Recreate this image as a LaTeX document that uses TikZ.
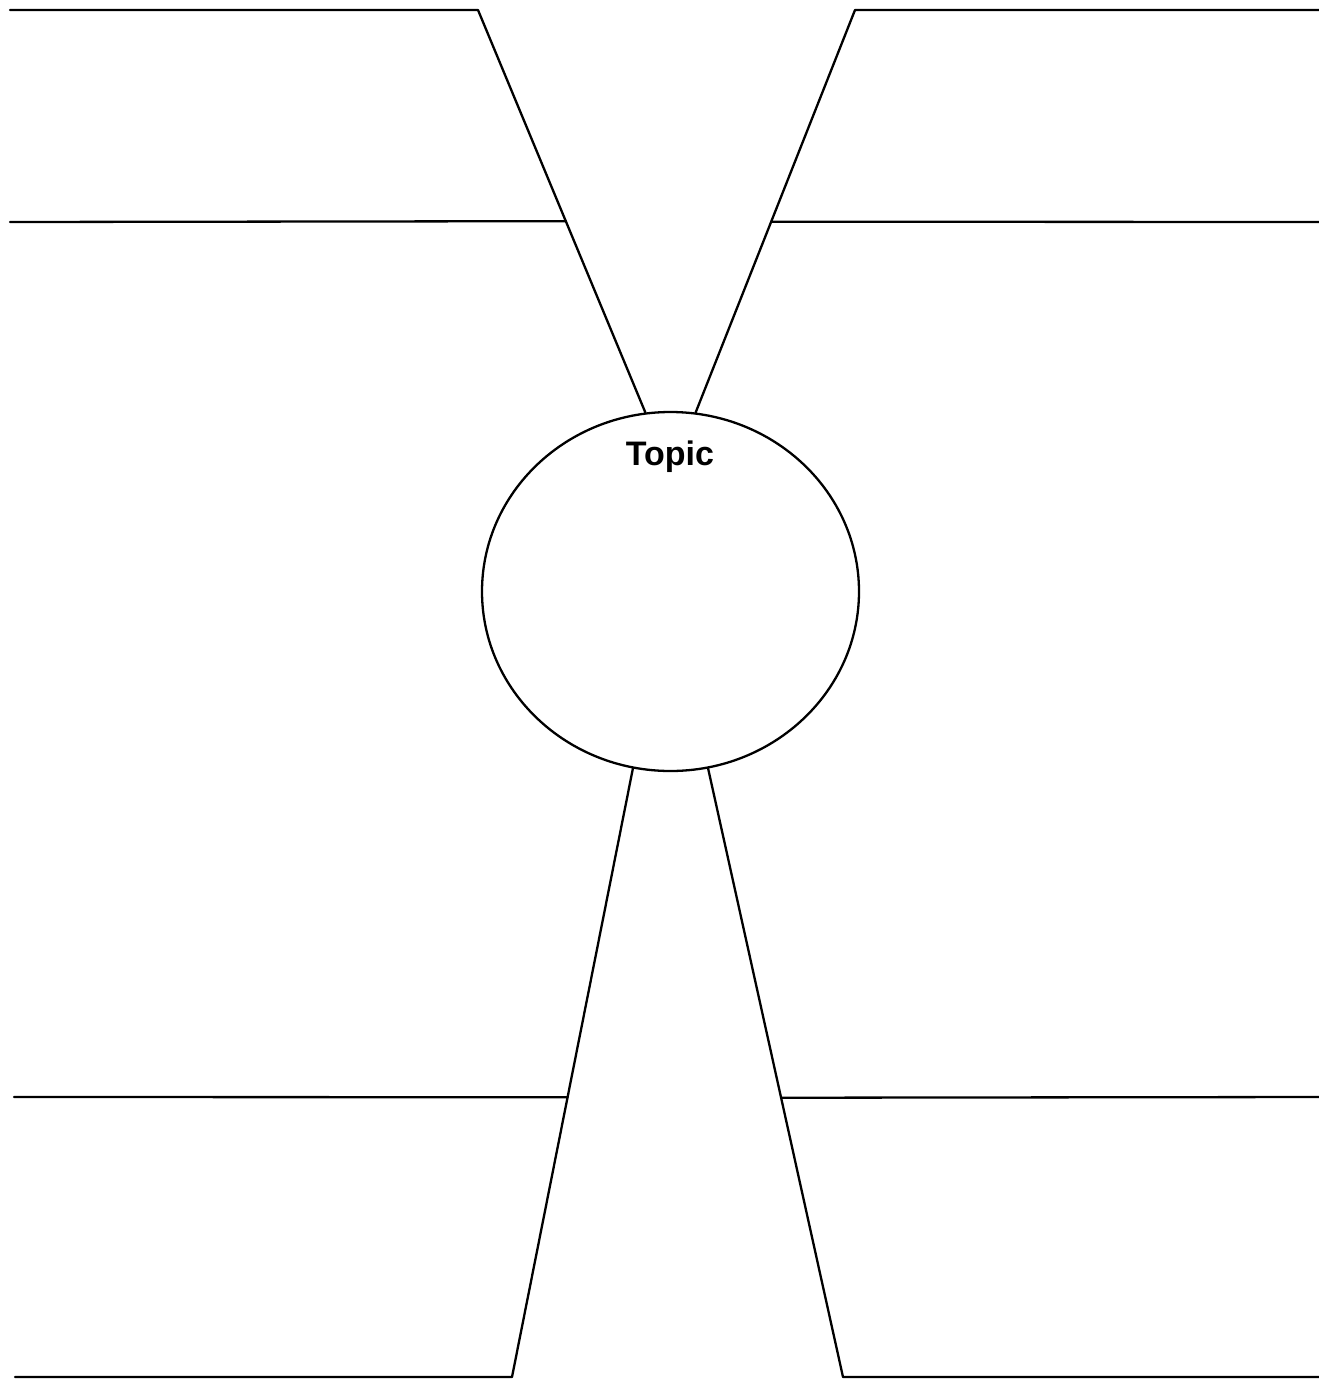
\documentclass[tikz,border=0pt]{standalone}
\usepackage{fontspec}
\setmainfont{Liberation Sans}
\usetikzlibrary{shapes.geometric,calc}
\begin{document}
\begin{tikzpicture}[x=1pt,y=-1pt,
  ln/.style={line width=2.3pt,line cap=round,line join=round},
  topicnode/.style={ellipse,draw,line width=2.3pt,minimum width=377pt,minimum height=359pt,inner sep=0pt}]
\useasboundingbox[fill=white] (0,0) rectangle (1319,1379);
\node[topicnode] (topic) at (670.5,591.5) {};
\node[font=\bfseries\fontsize{34}{40}\selectfont,anchor=base] (label) at (670,465) {Topic};
% top corners
\coordinate (tlA) at (10,10);
\coordinate (tlB) at (478,10);
\coordinate (trA) at (1319,10);
\coordinate (trB) at (855,10);
\coordinate (blA) at (15,1377);
\coordinate (blB) at (512,1377);
\coordinate (brA) at (1319,1377);
\coordinate (brB) at (843,1377);
% slants
\draw[ln] (tlA) -- (tlB) -- (topic.98.8);
\draw[ln] (trA) -- (trB) -- (topic.82.5);
\draw[ln] (blA) -- (blB) -- (topic.258.6);
\draw[ln] (brA) -- (brB) -- (topic.282.7);
% middle horizontals
\coordinate (mlA) at (10,222);
\coordinate (mlB) at ($(tlB)!0.5247!(topic.98.8)$);
\coordinate (mrA) at (1319,222);
\coordinate (mrB) at ($(trB)!0.526!(topic.82.5)$);
\coordinate (llA) at (14,1097);
\coordinate (llB) at ($(blB)!0.4598!(topic.258.6)$);
\coordinate (lrA) at (1319,1097);
\coordinate (lrB) at ($(brB)!0.459!(topic.282.7)$);
\draw[ln] (mlA) -- (mlB);
\draw[ln] (mrA) -- (mrB);
\draw[ln] (llA) -- (llB);
\draw[ln] (lrA) -- (lrB);
\end{tikzpicture}
\end{document}
